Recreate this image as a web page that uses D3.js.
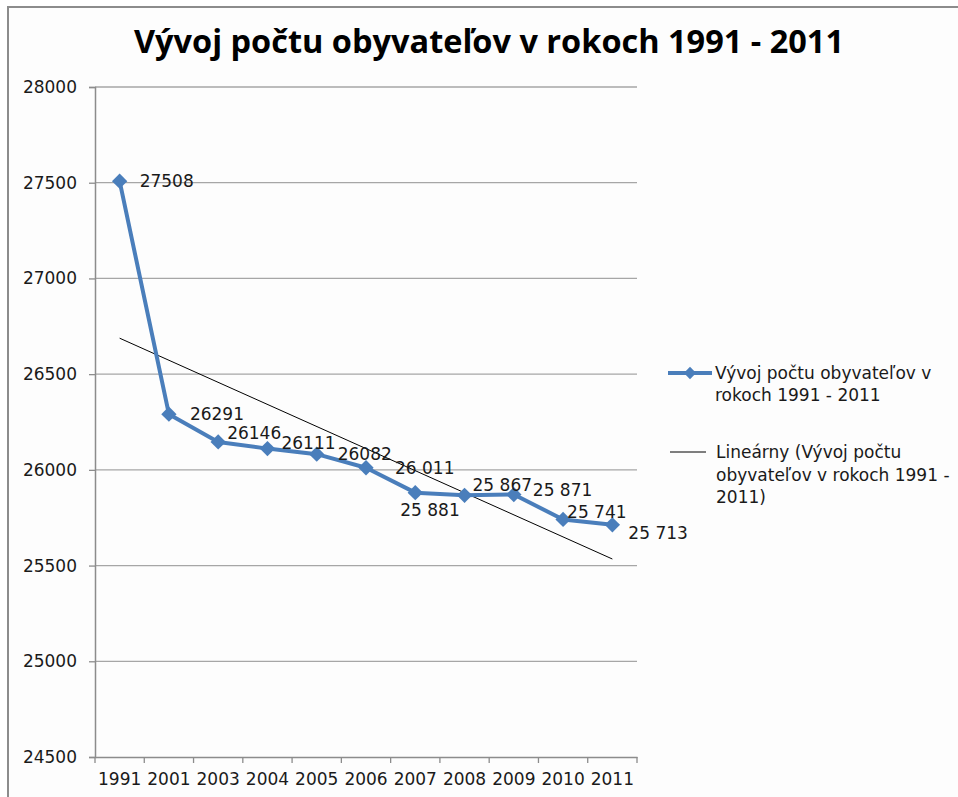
<!DOCTYPE html>
<html>
<head>
<meta charset="utf-8">
<script src="https://cdn.jsdelivr.net/npm/d3@7"></script>
<style>
  body { margin: 0; background: #fff; }
  text { font-family: "DejaVu Sans", sans-serif; fill: #1a1a1a; }
</style>
</head>
<body>
<div id="chart"></div>
<script>
// Data
const years = ['1991', '2001', '2003', '2004', '2005', '2006', '2007', '2008', '2009', '2010', '2011']
const population = [27508, 26291, 26146, 26111, 26082, 26011, 25881, 25867, 25871, 25741, 25713]
const valueLabels = ['27508', '26291', '26146', '26111', '26082', '26 011', '25 881', '25 867', '25 871', '25 741', '25 713']
const yTicks = [24500, 25000, 25500, 26000, 26500, 27000, 27500, 28000]

const title = 'Vývoj počtu obyvateľov v rokoch 1991 - 2011'
const seriesLegend = ['Vývoj počtu obyvateľov v', 'rokoch 1991 - 2011']
const trendLegend = ['Lineárny (Vývoj počtu', 'obyvateľov v rokoch 1991 -', '2011)']

// label offsets from the point (dx to text start, dy to text centre)
const labelOffsets = [[20, 0], [21, 0], [9, -9], [14, -6], [21, 0], [29, 0], [-15, 17], [8, -10], [19, -5], [4, -8], [16, 8]]

const size = { width: 958, height: 797 }
const margin = { top: 87, left: 95, right: 958 - 637, bottom: 797 - 757 }
const width = size.width - margin.left - margin.right
const height = size.height - margin.top - margin.bottom
const fontSize = '17px'

const svg = d3.select('#chart').append('svg')
  .attr('width', size.width)
  .attr('height', size.height)

// outer chart border
svg.append('rect')
  .attr('x', 8).attr('y', 7)
  .attr('width', 1000).attr('height', 1000)
  .attr('fill', '#fdfdfd')
  .attr('stroke', '#8c8c8c')
  .attr('stroke-width', 2)

svg.append('text')
  .attr('x', 489).attr('y', 53)
  .attr('text-anchor', 'middle')
  .style('font-family', '"Open Sans", sans-serif')
  .style('font-weight', 'bold')
  .style('font-size', '32.5px')
  .style('fill', '#000')
  .text(title)

const g = svg.append('g')
  .attr('transform', `translate(${margin.left}, ${margin.top})`)

const x = d3.scaleBand().domain(years).range([0, width])
const y = d3.scaleLinear().domain([24500, 28000]).range([height, 0])
const cx = d => x(d) + x.bandwidth() / 2

// gridlines
g.selectAll('.grid')
  .data(yTicks.slice(1))
  .enter().append('line')
  .attr('x1', 0).attr('x2', width)
  .attr('y1', d => y(d)).attr('y2', d => y(d))
  .attr('stroke', '#a6a6a6')
  .attr('stroke-width', 1.3)

// Y axis
const yAxis = g.append('g')
  .call(d3.axisLeft(y).tickValues(yTicks).tickSize(6).tickPadding(12).tickFormat(d3.format('d')))
yAxis.select('.domain').attr('stroke', '#8c8c8c').attr('stroke-width', 1.5)
yAxis.selectAll('.tick line').attr('stroke', '#8c8c8c').attr('stroke-width', 1.3)
yAxis.selectAll('.tick text').style('font-size', fontSize).style('fill', '#1a1a1a')
  .style('font-family', '"DejaVu Sans", sans-serif')

// X axis with ticks at band boundaries
const xAxis = g.append('g')
  .attr('transform', `translate(0, ${height})`)
  .call(d3.axisBottom(x).tickSize(0).tickPadding(16))
xAxis.select('.domain').attr('stroke', '#8c8c8c').attr('stroke-width', 1.5)
xAxis.selectAll('.tick text').style('font-size', fontSize).style('fill', '#1a1a1a')
  .style('font-family', '"DejaVu Sans", sans-serif')
g.selectAll('.xtick')
  .data(d3.range(years.length + 1))
  .enter().append('line')
  .attr('x1', i => i * x.step()).attr('x2', i => i * x.step())
  .attr('y1', height).attr('y2', height + 6)
  .attr('stroke', '#8c8c8c')
  .attr('stroke-width', 1.3)

// linear trend (least squares on the category index)
const idx = d3.range(years.length)
const mx = d3.mean(idx)
const my = d3.mean(population)
const slope = d3.sum(idx, i => (i - mx) * (population[i] - my)) / d3.sum(idx, i => (i - mx) ** 2)
const trend = i => my + slope * (i - mx)

g.append('line')
  .attr('x1', cx(years[0])).attr('y1', y(trend(0)))
  .attr('x2', cx(years[years.length - 1])).attr('y2', y(trend(years.length - 1)))
  .attr('stroke', '#000')
  .attr('stroke-width', 1)

// main line
const line = d3.line()
  .x((d, i) => cx(years[i]))
  .y(d => y(d))

g.append('path')
  .datum(population)
  .attr('fill', 'none')
  .attr('stroke', '#4a7ebb')
  .attr('stroke-width', 4)
  .attr('stroke-linejoin', 'round')
  .attr('d', line)

const diamond = d3.symbol().type(d3.symbolDiamond2).size(150)

g.selectAll('.marker')
  .data(population)
  .enter().append('path')
  .attr('d', diamond)
  .attr('transform', (d, i) => `translate(${cx(years[i])}, ${y(d)})`)
  .attr('fill', '#4a7ebb')

g.selectAll('.label')
  .data(population)
  .enter().append('text')
  .attr('x', (d, i) => cx(years[i]) + labelOffsets[i][0])
  .attr('y', (d, i) => y(d) + labelOffsets[i][1])
  .attr('dy', '0.36em')
  .style('font-size', fontSize)
  .text((d, i) => valueLabels[i])

// Legend
const legend = svg.append('g')
legend.append('line')
  .attr('x1', 668).attr('x2', 712).attr('y1', 373).attr('y2', 373)
  .attr('stroke', '#4a7ebb').attr('stroke-width', 4)
legend.append('path')
  .attr('d', diamond)
  .attr('transform', 'translate(690, 373) scale(0.8)')
  .attr('fill', '#4a7ebb')
legend.selectAll('.s1')
  .data(seriesLegend)
  .enter().append('text')
  .attr('x', 715).attr('y', (d, i) => 373 + i * 22)
  .attr('dy', '0.36em')
  .style('font-size', fontSize)
  .text(d => d)

legend.append('line')
  .attr('x1', 670).attr('x2', 706).attr('y1', 452).attr('y2', 452)
  .attr('stroke', '#000').attr('stroke-width', 1)
legend.selectAll('.s2')
  .data(trendLegend)
  .enter().append('text')
  .attr('x', 716).attr('y', (d, i) => 452 + i * 22.5)
  .attr('dy', '0.36em')
  .style('font-size', fontSize)
  .text(d => d)
</script>
</body>
</html>
